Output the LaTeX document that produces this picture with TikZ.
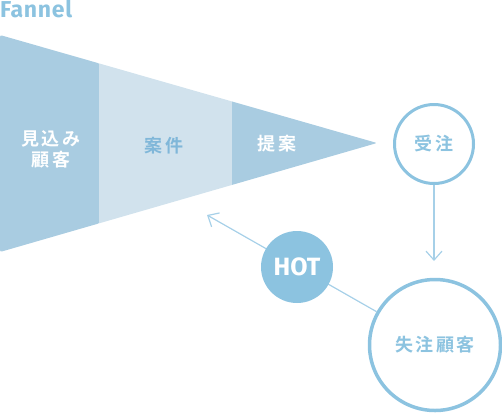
\documentclass[tikz,border=0pt]{standalone}
\usepackage{fontspec}
\setmainfont{Noto Sans CJK JP Bold}
\newfontfamily\latinbold{Fira Sans}[BoldFont={* Bold}]
\usetikzlibrary{arrows.meta}
\definecolor{fdark}{HTML}{A9CCE1}
\definecolor{flight}{HTML}{D1E2ED}
\definecolor{cblue}{HTML}{8CC3E0}
\definecolor{tblue}{HTML}{80B7D9}
\definecolor{ablue}{HTML}{A6D0E8}
\tikzset{
  lbl/.style={font=\fontsize{18}{22}\selectfont\addfontfeatures{LetterSpace=12}, align=center, inner sep=0pt},
  ring/.style={circle, draw=cblue, fill=white, text=cblue, font=\fontsize{18}{22}\selectfont\addfontfeatures{LetterSpace=12}},
  conn/.style={draw=ablue, line width=1.2pt},
  tip/.style={-{Straight Barb[length=9pt,width=16pt,line width=1.2pt]}}
}
\begin{document}
\begin{tikzpicture}[x=1pt,y=-1pt]
\useasboundingbox (0,0) rectangle (502,413);
% title
\node[anchor=north west, inner sep=0pt, text=cblue, font=\latinbold\fontsize{23}{27}\selectfont\bfseries\addfontfeatures{LetterSpace=3}] (title) at (0,0) {Fannel};
% funnel
\begin{scope}
  \clip[rounded corners=2pt] (0,35) -- (377,143) -- (0,252) -- cycle;
  \fill[fdark] (0,0) rectangle (99,300);
  \fill[flight] (99,0) rectangle (232,300);
  \fill[fdark] (232,0) rectangle (380,300);
\end{scope}
\node[lbl, text=white] (mikomi) at (51,149) {見込み\\[-1pt]顧客};
\node[lbl, text=tblue] (anken) at (164,146) {案件};
\node[lbl, text=white] (teian) at (277,144) {提案};
% circles
\node[ring, line width=3pt, minimum size=79pt] (juchu) at (434,144) {受注};
\node[ring, line width=3.5pt, minimum size=131pt] (shicchu) at (435,345) {失注顧客};
\coordinate (downtip) at (434,261);
\coordinate (backtip) at (207,215);
\draw[conn, tip] (juchu) -- (downtip);
\draw[conn, tip] (shicchu) -- (backtip);
\node[circle, fill=cblue, minimum size=72pt, inner sep=0pt, text=white, font=\latinbold\fontsize{25}{29}\selectfont\bfseries] (hot) at (297,267) {HOT};
\end{tikzpicture}
\end{document}
